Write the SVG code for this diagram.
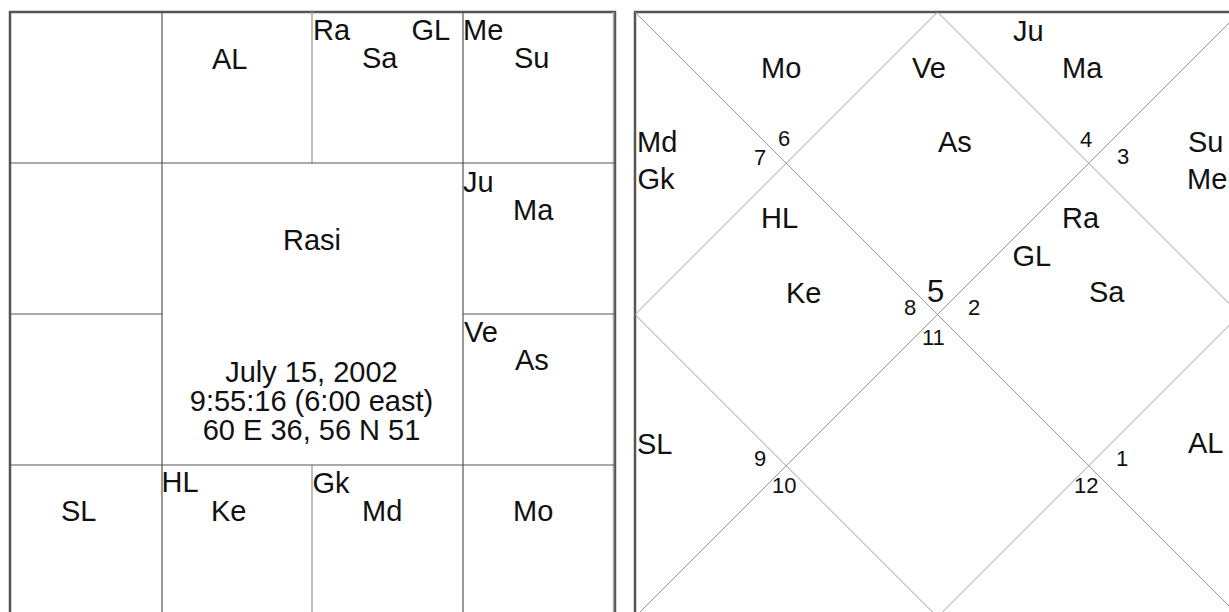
<svg xmlns="http://www.w3.org/2000/svg" width="1229" height="612" viewBox="0 0 1229 612">
<style>
  text { font-family: "Liberation Sans", Arial, sans-serif; font-size: 29px; fill: #111; }
  .n { font-size: 22px; }
  .big { font-size: 31px; }
  .mid { text-anchor: middle; }
  .frame { fill: none; stroke: #555; stroke-width: 2.5; }
  .grid { stroke: #555; stroke-width: 1.2; fill: none; }
  .lite { stroke: #aaa; stroke-width: 1.5; fill: none; }
  .diag { stroke: #999; stroke-width: 1; fill: none; }
</style>
<rect width="1229" height="612" fill="#fff"/>

<!-- ===== South Indian (Rasi) chart ===== -->
<g id="rasi-lines">
  <rect class="frame" x="10" y="12" width="605" height="605"/>
  <line class="lite" x1="613.5" y1="12" x2="613.5" y2="617"/>
  <line class="grid" x1="162" y1="12" x2="162" y2="617"/>
  <line class="grid" x1="463" y1="12" x2="463" y2="617"/>
  <line class="lite" x1="312" y1="12" x2="312" y2="163"/>
  <line class="lite" x1="312" y1="465" x2="312" y2="617"/>
  <line class="grid" x1="10" y1="163" x2="615" y2="163"/>
  <line class="grid" x1="10" y1="465" x2="615" y2="465"/>
  <line class="grid" x1="10" y1="314" x2="162" y2="314"/>
  <line class="grid" x1="463" y1="314" x2="615" y2="314"/>
</g>
<g id="rasi-cell-1"><text x="212" y="69">AL</text></g>
<g id="rasi-cell-2"><text x="313" y="40">Ra</text><text x="411.5" y="40">GL</text><text x="362" y="68">Sa</text></g>
<g id="rasi-cell-3"><text x="463" y="40">Me</text><text x="514" y="68">Su</text></g>
<g id="rasi-cell-4"><text x="463" y="192">Ju</text><text x="513" y="220">Ma</text></g>
<g id="rasi-cell-5"><text x="464" y="342">Ve</text><text x="515" y="370">As</text></g>
<g id="rasi-center">
  <text class="mid" x="312" y="250">Rasi</text>
  <text class="mid" x="311.5" y="382">July 15, 2002</text>
  <text class="mid" x="311.5" y="411">9:55:16 (6:00 east)</text>
  <text class="mid" x="311.5" y="440">60 E 36, 56 N 51</text>
</g>
<g id="rasi-cell-6"><text x="513" y="521">Mo</text></g>
<g id="rasi-cell-7"><text x="312.5" y="493">Gk</text><text x="362" y="521">Md</text></g>
<g id="rasi-cell-8"><text x="161.5" y="492">HL</text><text x="211" y="521">Ke</text></g>
<g id="rasi-cell-9"><text x="61" y="521">SL</text></g>

<!-- ===== North Indian chart ===== -->
<g id="connectors">
  <rect class="frame" x="635" y="12" width="605" height="605"/>
  <line class="diag" x1="635" y1="12" x2="1240" y2="617"/>
  <line class="diag" x1="1240" y1="12" x2="635" y2="617"/>
  <polygon class="diag" points="937.5,12 1240,314.5 937.5,617 635,314.5"/>
</g>
<g id="house-5"><text x="912" y="78">Ve</text><text x="938" y="152">As</text><text class="big" x="927" y="302">5</text></g>
<g id="house-4"><text x="1013" y="41">Ju</text><text x="1062" y="78">Ma</text><text class="n" x="1080" y="147">4</text></g>
<g id="house-3"><text x="1188" y="152">Su</text><text x="1187" y="189">Me</text><text class="n" x="1117" y="164">3</text></g>
<g id="house-2"><text x="1062" y="228">Ra</text><text x="1012.5" y="266">GL</text><text x="1089" y="302">Sa</text><text class="n" x="968" y="315">2</text></g>
<g id="house-6"><text x="761" y="78">Mo</text><text class="n" x="778" y="146">6</text></g>
<g id="house-7"><text x="637" y="152">Md</text><text x="637.5" y="189">Gk</text><text class="n" x="754" y="165">7</text></g>
<g id="house-8"><text x="761" y="228">HL</text><text x="786" y="303">Ke</text><text class="n" x="904" y="315">8</text></g>
<g id="house-11"><text class="n" x="922" y="345">11</text></g>
<g id="house-9"><text x="637" y="454">SL</text><text class="n" x="754" y="466">9</text></g>
<g id="house-10"><text x="772" y="493" class="n">10</text></g>
<g id="house-1"><text x="1188" y="453">AL</text><text class="n" x="1116" y="466">1</text></g>
<g id="house-12"><text class="n" x="1074" y="493">12</text></g>
</svg>
